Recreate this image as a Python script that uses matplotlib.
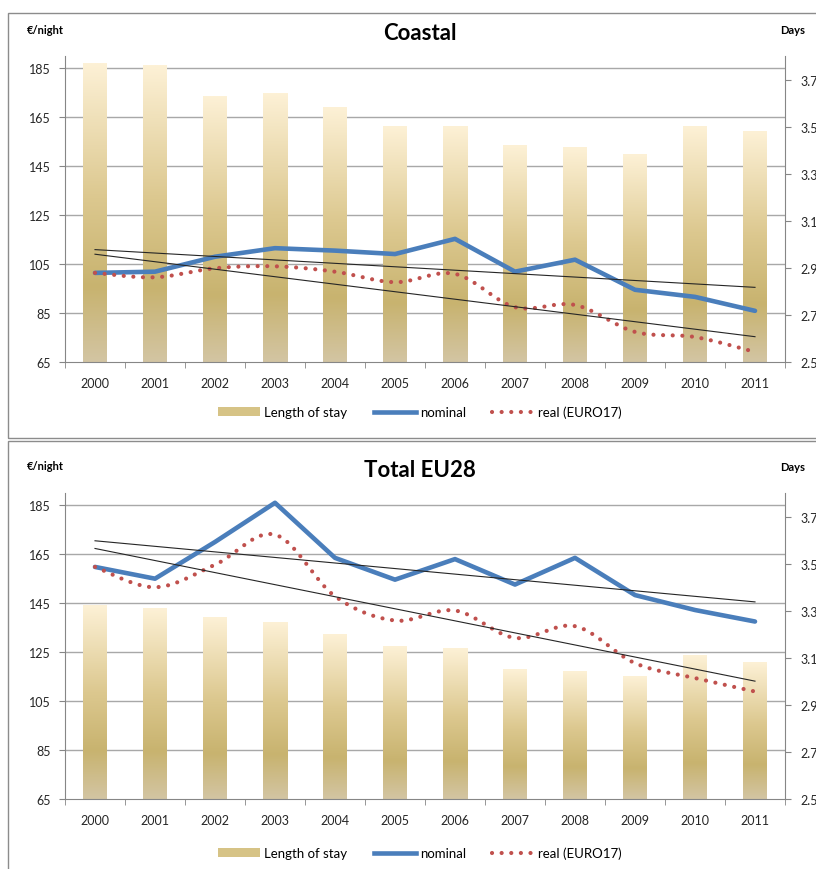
import numpy as np
import matplotlib.pyplot as plt
import matplotlib.transforms as mtransforms
from matplotlib.colors import LinearSegmentedColormap
from matplotlib.patches import Rectangle, Patch
from matplotlib.lines import Line2D

plt.rcParams['font.family'] = ['Lato', 'DejaVu Sans']

years = [str(y) for y in range(2000, 2012)]

# Coastal
coastal_stay = [3.77, 3.76, 3.63, 3.64, 3.58, 3.50, 3.50, 3.42, 3.41, 3.38, 3.50, 3.48]
coastal_nominal = [101.4, 101.9, 108.0, 111.5, 110.5, 109.1, 115.3, 101.9, 106.8, 94.5, 91.6, 85.9]
coastal_real = [101.4, 99.6, 103.3, 104.1, 101.9, 97.6, 101.0, 87.4, 88.3, 77.3, 75.2, 69.1]

# Total EU28
eu_stay = [3.32, 3.31, 3.27, 3.25, 3.20, 3.15, 3.14, 3.05, 3.04, 3.02, 3.11, 3.08]
eu_nominal = [159.8, 155.0, 170.0, 186.0, 163.5, 154.6, 163.0, 152.6, 163.5, 148.3, 142.2, 137.5]
eu_real = [159.8, 151.5, 160.7, 173.0, 147.8, 137.9, 142.0, 130.8, 135.6, 120.5, 114.4, 108.9]

price_ticks = [65, 85, 105, 125, 145, 165, 185]
days_ticks = [2.5, 2.7, 2.9, 3.1, 3.3, 3.5, 3.7]

W, H = 816, 870
BLUE = '#4A7EBB'
RED = '#C0504D'
GRID = '#A8A8A8'
AXC = '#868686'
DOTS = (0, (0.01, 2.3))

bar_cmap = LinearSegmentedColormap.from_list(
    'gold', [(0.0, '#D3C5A3'), (0.25, '#C8B36F'), (0.55, '#DCC88F'), (1.0, '#FDF1D6')])
grad = np.linspace(0, 1, 256).reshape(-1, 1)


def smooth(xv, yv, n=20):
    # catmull-rom curve through the points (like excel "smoothed line")
    p = np.column_stack([xv, yv]).astype(float)
    p = np.vstack([p[0], p, p[-1]])
    out = []
    t = np.linspace(0, 1, n, endpoint=False)[:, None]
    for i in range(1, len(p) - 2):
        p0, p1, p2, p3 = p[i - 1], p[i], p[i + 1], p[i + 2]
        seg = 0.5 * ((2 * p1) + (-p0 + p2) * t + (2 * p0 - 5 * p1 + 4 * p2 - p3) * t ** 2
                     + (-p0 + 3 * p1 - 3 * p2 + p3) * t ** 3)
        out.append(seg)
    out.append(p[-2][None, :])
    out = np.vstack(out)
    return out[:, 0], out[:, 1]


def panel(fig, top, title, stay, nominal, real, leg_off):
    bottom = top + 306
    ax = fig.add_axes([65 / W, 1 - bottom / H, 720 / W, 306 / H])
    ax2 = ax.twinx()
    ax.set_zorder(ax2.get_zorder() + 1)
    ax.patch.set_visible(False)

    x = np.arange(len(years))
    ax.set_xlim(-0.5, 11.5)
    ax.set_ylim(65, 190)

    # gridlines of the price axis, behind the bars
    tr = mtransforms.blended_transform_factory(ax2.transAxes, ax.transData)
    for v in price_ticks[1:]:
        ax2.plot([0, 1], [v, v], transform=tr, color=GRID, lw=1, zorder=1)

    for xi, v in zip(x, stay):
        ax2.imshow(grad, extent=(xi - 0.2, xi + 0.2, 2.5, v), origin='lower',
                   aspect='auto', cmap=bar_cmap, interpolation='bilinear', zorder=2)
    ax2.set_xlim(-0.5, 11.5)
    ax2.set_ylim(2.5, 3.8)

    ax.plot(x, nominal, color=BLUE, lw=3.3, solid_joinstyle='round', solid_capstyle='round', zorder=3)
    sx, sy = smooth(x, real)
    ax.plot(sx, sy, color=RED, lw=3, linestyle=DOTS, dash_capstyle='round', zorder=3)

    ends = x[[0, -1]]
    for series in (nominal, real):
        c = np.polyfit(x, series, 1)
        ax.plot(ends, np.polyval(c, ends), color='#262626', lw=0.8, zorder=4)

    ax.set_yticks(price_ticks)
    ax2.set_yticks(days_ticks, [f'{d:.1f}' for d in days_ticks])
    ax.set_xticks(x, years)
    ax.set_xticks(np.arange(-0.5, 12, 1), minor=True)
    ax.tick_params(axis='x', which='major', length=0, pad=11, labelsize=9, labelcolor='#262626')
    ax.tick_params(axis='x', which='minor', length=4, color=AXC, direction='out')
    ax.tick_params(axis='y', length=4, color=AXC, pad=6, labelsize=9, labelcolor='#262626')
    ax2.tick_params(axis='y', length=4, color=AXC, pad=7, labelsize=9, labelcolor='#262626')

    for s in ('top', 'right'):
        ax.spines[s].set_visible(False)
    for s in ('left', 'bottom'):
        ax.spines[s].set_color(AXC)
    for s in ('top', 'left', 'bottom'):
        ax2.spines[s].set_visible(False)
    ax2.spines['right'].set_color(AXC)

    handles = [Patch(facecolor='#D6C386', edgecolor='none'),
               Line2D([], [], color=BLUE, lw=3.3),
               Line2D([], [], color=RED, lw=3, linestyle=DOTS, dash_capstyle='round')]
    ax.legend(handles, ['Length of stay', 'nominal', 'real (EURO17)'], loc='center',
              bbox_to_anchor=(0.493, -leg_off / 306), ncol=3, frameon=False, fontsize=9.5,
              handlelength=3.2, handleheight=0.6, columnspacing=2.0, handletextpad=0.3)

    fig.text(420 / W, 1 - (top - 23) / H, title, ha='center', va='center',
             fontsize=16, fontweight='bold', color='black')
    fig.text(27 / W, 1 - (top - 27) / H, '€/night', ha='left', va='center',
             fontsize=8, fontweight='bold', color='black')
    fig.text(780 / W, 1 - (top - 26) / H, 'Days', ha='left', va='center',
             fontsize=8, fontweight='bold', color='black')
    return ax


fig = plt.figure(figsize=(W / 100, H / 100), dpi=100)
fig.patch.set_facecolor('white')

fig.patches.append(Rectangle((8 / W, 1 - 439 / H), 820 / W, 425 / H, transform=fig.transFigure,
                             fill=False, edgecolor='#8C8C8C', lw=1))
fig.patches.append(Rectangle((8 / W, 1 - 880 / H), 820 / W, 438 / H, transform=fig.transFigure,
                             fill=False, edgecolor='#8C8C8C', lw=1))

panel(fig, 57, 'Coastal', coastal_stay, coastal_nominal, coastal_real, 50)
panel(fig, 494, 'Total EU28', eu_stay, eu_nominal, eu_real, 54)

fig.savefig('out.png', dpi=100)
